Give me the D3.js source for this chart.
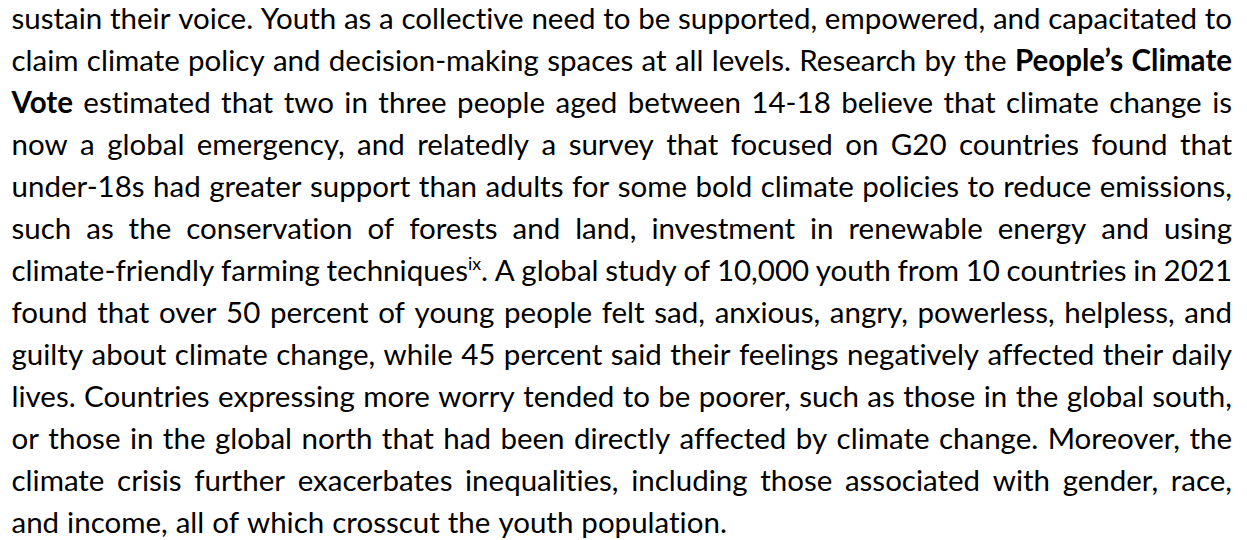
<!DOCTYPE html>
<html>
<head>
<meta charset="utf-8">
<script src="https://cdn.jsdelivr.net/npm/d3@7"></script>
<style>
  body { margin: 0; background: #fff; }
  svg { display: block; }
  .word {
    font-family: Lato, "Open Sans", sans-serif;
    fill: #000;
    font-variant-ligatures: none;
    font-feature-settings: "liga" 0, "clig" 0;
  }
</style>
</head>
<body>
<script>

// one string per printed line; *word* = bold, ^xx^ = superscript note
var LINES = [
    "sustain their voice. Youth as a collective need to be supported, empowered, and capacitated to",
    "claim climate policy and decision-making spaces at all levels. Research by the *People’s* *Climate*",
    "*Vote* estimated that two in three people aged between 14-18 believe that climate change is",
    "now a global emergency, and relatedly a survey that focused on G20 countries found that",
    "under-18s had greater support than adults for some bold climate policies to reduce emissions,",
    "such as the conservation of forests and land, investment in renewable energy and using",
    "climate-friendly farming techniques^ix^. A global study of 10,000 youth from 10 countries in 2021",
    "found that over 50 percent of young people felt sad, anxious, angry, powerless, helpless, and",
    "guilty about climate change, while 45 percent said their feelings negatively affected their daily",
    "lives. Countries expressing more worry tended to be poorer, such as those in the global south,",
    "or those in the global north that had been directly affected by climate change. Moreover, the",
    "climate crisis further exacerbates inequalities, including those associated with gender, race,",
    "and income, all of which crosscut the youth population."
];

var width = 1247,
    height = 540,
    left = 11.5,
    right = 1232,
    fontSize = 29.5,
    spaceW = fontSize * 0.27;

var svg = d3.select("body").append("svg")
    .attr("width", width)
    .attr("height", height);

var y = d3.scaleLinear()
    .domain([0, LINES.length - 1])
    .range([29, 533]);

function splitWord(w) {
    // returns list of pieces {t, bold, sup}
    var bold = false;
    if (w.charAt(0) == "*" && w.charAt(w.length - 1) == "*") {
        bold = true;
        w = w.slice(1, -1);
    }
    var parts = w.split("^");
    return parts.map(function(p, i) {
        return { t: p, bold: bold, sup: i % 2 == 1 };
    }).filter(function(p) { return p.t.length > 0; });
}

LINES.forEach(function(line, li) {
    var words = line.split(" ");
    var g = svg.append("g").attr("transform", "translate(0," + y(li) + ")");

    var txt = g.selectAll("text")
        .data(words)
        .enter().append("text")
        .attr("class", "word")
        .style("font-size", fontSize + "px");

    txt.each(function(w) {
        var el = d3.select(this);
        var pieces = splitWord(w);
        var raised = false;
        pieces.forEach(function(p) {
            var ts = el.append("tspan").text(p.t);
            if (p.bold) ts.style("font-weight", "bold");
            if (p.sup) {
                ts.style("font-size", (fontSize * 0.6) + "px").attr("dy", -11);
                raised = true;
            } else if (raised) {
                ts.attr("dy", 11);
                raised = false;
            }
        });
    });

    var widths = [];
    txt.each(function() { widths.push(this.getComputedTextLength()); });
    var total = d3.sum(widths);
    var last = li == LINES.length - 1;
    var gap = last ? spaceW : (right - left - total) / (words.length - 1);

    var x = left;
    txt.attr("x", function(d, i) {
        var cur = x;
        x += widths[i] + gap;
        return cur;
    });
});

</script>
</body>
</html>
